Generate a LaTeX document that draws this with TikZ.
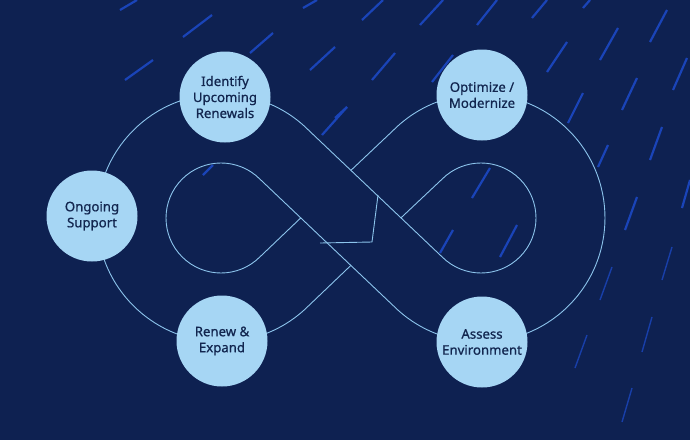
\documentclass[tikz,border=0pt]{standalone}
\usepackage{fontspec}
\setmainfont{Noto Sans}
\newfontfamily\stagefont{Noto Sans}[FakeBold=0.7]
\usetikzlibrary{intersections}
\definecolor{navy}{HTML}{0E2151}
\definecolor{loop}{HTML}{8CC4EC}
\definecolor{stagefill}{HTML}{A6D6F4}
\definecolor{stagetext}{HTML}{12264F}
\definecolor{rain}{HTML}{1A44B8}

\begin{document}
\begin{tikzpicture}[x=1pt, y=-1pt,
    stage/.style={
        circle,
        minimum size=91pt,
        inner sep=0pt,
        fill=stagefill,
        text=stagetext,
        font=\stagefont\fontsize{13.2}{16}\selectfont,
        align=center
    },
    track/.style={
        draw=loop,
        line width=0.9pt
    },
    streak/.style={
        draw=rain,
        line width=2.2pt
    },
    thin streak/.style={
        draw=rain!85!navy,
        line width=1.4pt
    }
]

% Background
\fill[navy] (0,0) rectangle (690,440);
\useasboundingbox (0,0) rectangle (690,440);

% Rain streaks
\foreach \xa/\ya/\xb/\yb in {120/10/137/0, 183/37/212/15, 125/80/153/60, 250/53/273/33,
    303/8/317/0, 310/70/335/47, 335/118/347/107, 362/20/383/0, 420/25/443/0,
    477/25/497/0, 532/18/547/0, 583/8/590/0, 650/42/667/10, 372/80/395/53,
    432/82/453/55, 547/72/567/42, 600/60/618/28, 673/90/687/58, 568/123/583/93,
    622/110/637/78, 598/167/608/145, 650/160/662/127, 682/208/690/180,
    625/230/637/197, 472/198/490/168, 440/253/453/230, 500/257/517/225,
    203/175/213/165, 322/135/347/107}
    \draw[streak] (\xa,\ya) -- (\xb,\yb);
\foreach \xa/\ya/\xb/\yb in {600/300/612/267, 662/280/672/247, 642/352/652/317,
    575/368/587/335, 622/422/632/388}
    \draw[thin streak] (\xa,\ya) -- (\xb,\yb);

% Loop
\draw[track] (308.7,130.3) arc[start angle=-45, end angle=-315, radius=124];
\draw[track] (259.9,179.1) arc[start angle=-45, end angle=-315, radius=55];
\draw[track] (393.3,130.3) arc[start angle=-135, end angle=135, radius=124];
\draw[track] (442.1,179.1) arc[start angle=-135, end angle=135, radius=55];
\draw[track, name path=diaga] (259.9,179.1) -- (393.3,305.7);
\draw[track, name path=diagb] (308.7,130.3) -- (442.1,256.9);
\path[name path=lowin] (259.9,256.9) -- (330,190);
\path[name path=lowout] (308.7,305.7) -- (390,228);
\path[name path=upin] (442.1,179.1) -- (370,247);
\path[name path=upout] (393.3,130.3) -- (310,209);
\draw[track, name intersections={of=lowin and diaga, by=xa}] (259.9,256.9) -- (xa);
\draw[track, name intersections={of=lowout and diaga, by=xb}] (308.7,305.7) -- (xb);
\draw[track, name intersections={of=upin and diagb, by=xc}] (442.1,179.1) -- (xc);
\draw[track, name intersections={of=upout and diagb, by=xd}] (393.3,130.3) -- (xd);
\draw[track] (320,243) -- (372,242) -- (378,195);

% Stages
\node[stage] (identify) at (225,97) {Identify\\Upcoming\\Renewals};
\node[stage] (optimize) at (482,95) {Optimize /\\Modernize};
\node[stage] (ongoing) at (92,216) {Ongoing\\Support};
\node[stage] (renew) at (222,341) {Renew \&\\Expand};
\node[stage] (assess) at (482,342) {Assess\\Environment};

\end{tikzpicture}
\end{document}
